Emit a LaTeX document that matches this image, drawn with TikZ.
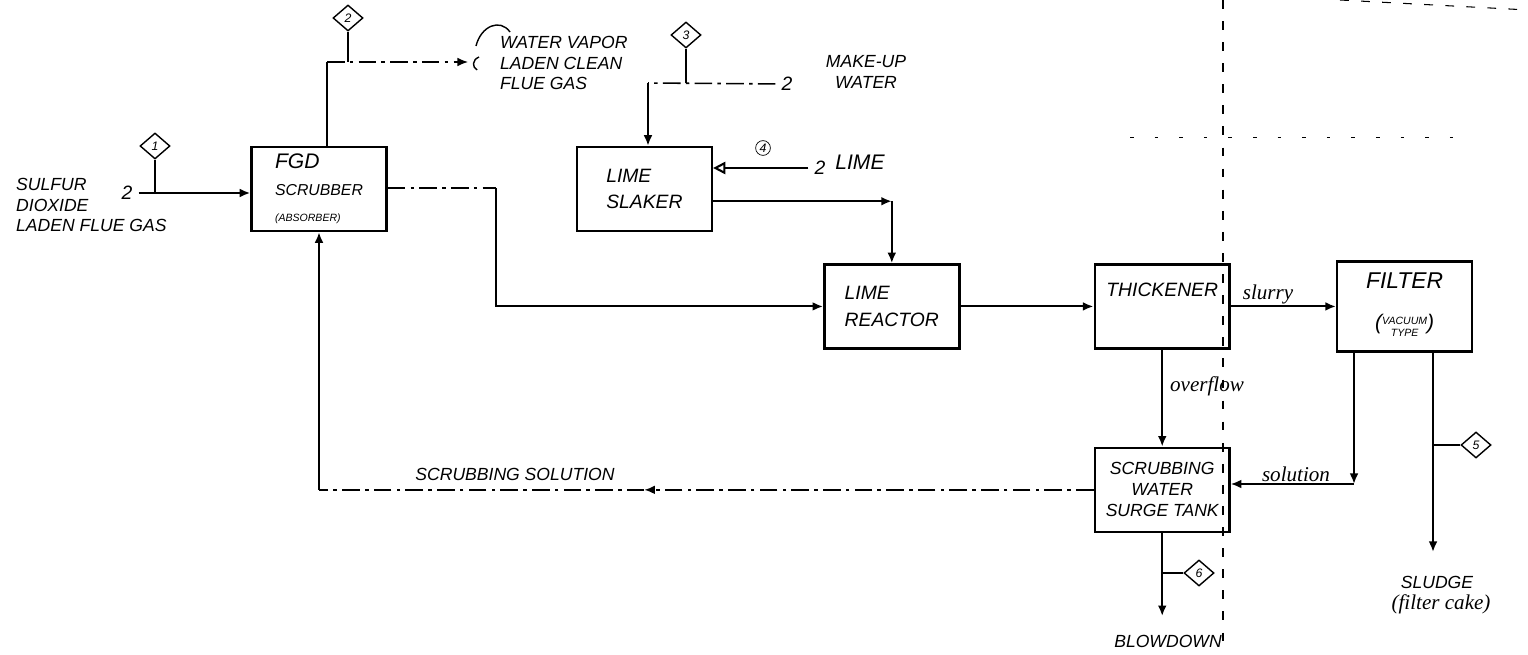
\documentclass[tikz,border=0pt]{standalone}
\usepackage{fontspec}
\setmainfont{Liberation Sans}
\newfontfamily\cursive{Liberation Serif}
\usetikzlibrary{positioning,shapes.geometric,arrows.meta}

\begin{document}
\begin{tikzpicture}[x=0.02cm, y=-0.02cm, >={Latex[length=6pt,width=5pt]},
  every node/.style={font=\itshape\fontsize{11}{15}\selectfont}]
\tikzstyle{box}=[draw, line width=1.4pt, align=center, minimum width=2.7cm, minimum height=1.68cm]
\tikzstyle{flow}=[line width=1.2pt]
\tikzstyle{faint}=[line width=0.9pt, dash pattern=on 10pt off 3pt on 2pt off 3pt]
\tikzstyle{stray}=[line width=0.6pt, dash pattern=on 5pt off 7pt]
\tikzstyle{tag}=[draw, diamond, thick, inner sep=0pt, minimum width=0.6cm, minimum height=0.52cm, font=\itshape\fontsize{7}{7}\selectfont]
\tikzstyle{lbl}=[align=left, font=\itshape\fontsize{10}{11.5}\selectfont]
\tikzstyle{hand}=[font=\cursive\itshape\fontsize{12}{13}\selectfont]
\useasboundingbox (0,0) rectangle (1528,655);

% units and boxes
\node[box, align=left] (fgd) at (319,189) {{\fontsize{12}{14}\selectfont FGD}\\{\fontsize{9}{11}\selectfont SCRUBBER}\\{\fontsize{6}{8}\selectfont (ABSORBER)}};
\node[box, align=left, right=3.76cm of fgd] (slaker) {LIME\\SLAKER};
\node[box, align=left, below right=0.62cm and 2.2cm of slaker] (reactor) {LIME\\REACTOR};
\node[box, right=2.66cm of reactor] (thickener) {THICKENER\\[4pt]\mbox{}};
\node[box, right=2.1cm of thickener, minimum height=1.8cm] (filter) {{\fontsize{13}{15}\selectfont FILTER}\\[8pt]{\fontsize{12}{12}\selectfont(}\raisebox{-1pt}{\fontsize{6}{6.5}\selectfont\begin{tabular}{@{}c@{}}VACUUM\\TYPE\end{tabular}}{\fontsize{12}{12}\selectfont)}};
\node[box, below=1.94cm of thickener, font=\itshape\fontsize{10}{12}\selectfont] (surge) {SCRUBBING\\WATER\\SURGE TANK};

% stream numbers
\node[tag] (s1) at (155,146) {1};
\node[tag] (s2) at (348,18) {2};
\node[tag] (s3) at (686,35) {3};
\node[draw, circle, thin, inner sep=0.8pt, font=\itshape\fontsize{7}{7}\selectfont] (s4) at (763,148) {4};
\node[tag] (s5) at (1476,445) {5};
\node[tag] (s6) at (1199,573) {6};

% labels
\node[lbl, anchor=west] (feedtxt) at (10,205) {SULFUR\\DIOXIDE\\LADEN FLUE GAS};
\node (src1) at (127,193) {2};
\node[lbl, anchor=west] (vaptxt) at (494,63) {WATER VAPOR\\LADEN CLEAN\\FLUE GAS};
\node[lbl, align=center] (mwtxt) at (866,72) {MAKE-UP\\WATER};
\node (src3) at (787,84) {2};
\node[font=\itshape\fontsize{12}{14}\selectfont] (limetxt) at (860,162) {LIME};
\node (src4) at (820,168) {2};
\node[hand] (slurry) at (1268,294) {slurry};
\node[hand] (overflow) at (1207,386) {overflow};
\node[hand] (solution) at (1296,474) {solution};
\node[lbl] (sludge) at (1437,582) {SLUDGE};
\node[hand] (cake) at (1441,604) {(filter cake)};
\node[lbl] (blowdown) at (1168,641) {BLOWDOWN};
\node[lbl] (solntxt) at (515,474) {SCRUBBING SOLUTION};

% points
\coordinate (vtop) at (327,62);
\coordinate (vap) at (468,62);
\coordinate (bend1) at (496,188);
\coordinate (mwc) at (648,83);
\path (reactor.north) ++(0,-62) coordinate (sl1);
\coordinate (solc) at (1354,484);
\coordinate (sludgeend) at (1433,552);
\path (surge.south) ++(0,83) coordinate (blowend);
\coordinate (retmid) at (surge.west -| slaker.center);
\coordinate (ret) at (surge.west -| fgd.south);

% flows
\draw[flow, ->] (src1) -- (src1 -| fgd.west);
\draw[flow] (s1) -- (s1 |- src1);
\draw[flow] (vtop |- fgd.north) -- (vtop);
\draw[faint, ->] (vtop) -- (vap);
\draw[flow] (s2) -- (s2 |- vap);
\draw[thick] (476,46) .. controls (481,26) and (500,18) .. (510,32);
\draw[thick] (479,57) .. controls (472,60) and (472,67) .. (477,70);
\draw[faint] (fgd.east |- bend1) -- (bend1);
\draw[flow, ->] (bend1) |- (reactor.west);
\draw[faint] (src3) -- (mwc);
\draw[flow, ->] (mwc) -- (mwc |- slaker.north);
\draw[flow] (s3) -- (s3 |- mwc);
\draw[flow, -{Triangle[open,length=7pt,width=7pt]}] (src4) -- (src4 -| slaker.east);
\draw[flow, ->] (slaker.east |- sl1) -- (sl1);
\draw[flow, ->] (sl1) -- (reactor.north);
\draw[flow, ->] (reactor.east) -- (reactor.east -| thickener.west);
\draw[flow, ->] (thickener.east) -- (thickener.east -| filter.west);
\draw[flow, ->] (thickener) -- (surge);
\draw[flow, ->] (filter.south -| solc) -- (solc);
\draw[thick, ->] (solc) -- (solc -| surge.east);
\draw[flow, ->] (filter.south -| sludgeend) -- (sludgeend);
\draw[flow] (s5) -- (s5 -| sludgeend);
\draw[flow, ->] (surge) -- (blowend);
\draw[flow] (s6) -- (s6 -| blowend);
\draw[faint, ->] (surge.west) -- (retmid);
\draw[faint] (retmid) -- (ret);
\draw[flow, ->] (ret) -- (fgd.south);

% scan marks
\draw[stray] (1223,0) -- (1223,645);
\draw[line width=0.5pt, dash pattern=on 2pt off 12pt] (1130,137) -- (1455,137);
\draw[stray] (1340,0) -- (1528,10);
\end{tikzpicture}
\end{document}
